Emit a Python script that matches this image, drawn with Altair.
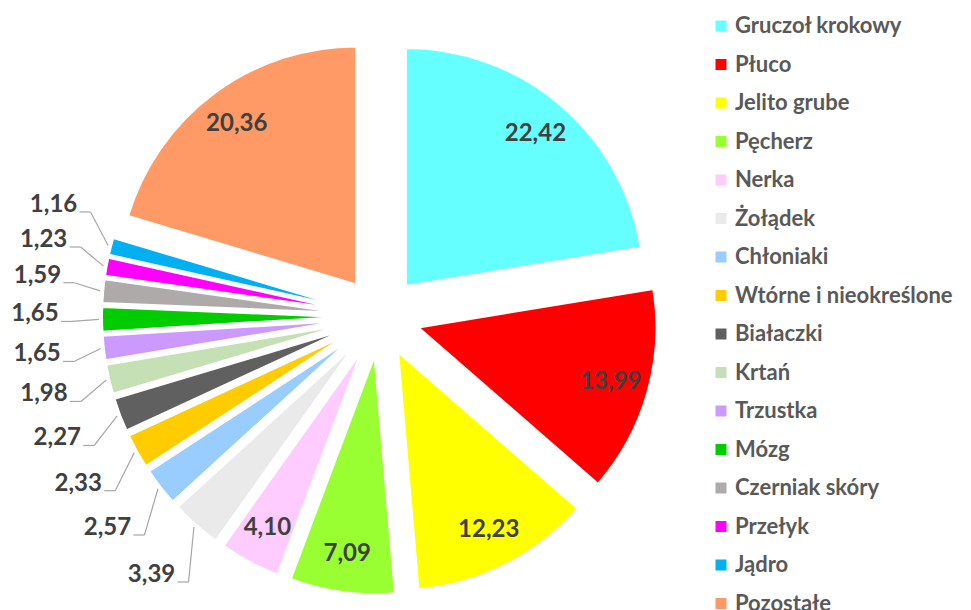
import altair as alt
import pandas as pd

categories = ["Gruczoł krokowy", "Płuco", "Jelito grube", "Pęcherz", "Nerka", "Żołądek",
              "Chłoniaki", "Wtórne i nieokreślone", "Białaczki", "Krtań", "Trzustka",
              "Mózg", "Czerniak skóry", "Przełyk", "Jądro", "Pozostałe"]
values = [22.42, 13.99, 12.23, 7.09, 4.10, 3.39, 2.57, 2.33, 2.27, 1.98, 1.65,
          1.65, 1.59, 1.23, 1.16, 20.36]
colors = ["#66FFFF", "#FF0000", "#FFFF00", "#99FF33", "#FFCCFF", "#EAEAEA",
          "#99CCFF", "#FFCC00", "#606060", "#C5E0B4", "#CC99FF", "#00CC00",
          "#AEAAAA", "#FF00FF", "#00B0F0", "#FF9966"]

df = pd.DataFrame({"cat": categories, "val": values, "order": list(range(len(values)))})

# layout (pixels, plot-area coordinates)
CX, CY = 372, 308.5   # pie centre
R = 238               # radius
EXPL = 40             # explosion distance
RIN = 240             # inside label radius (from centre)
ROUT = 345            # outside label radius
RANCH = 281           # leader anchor radius
GAP = 40
FONT = "Lato"

base = (
    alt.Chart(df)
    .transform_window(cum="sum(val)", sort=[alt.SortField("order")], frame=[None, 0])
    .transform_joinaggregate(total="sum(val)")
    .transform_calculate(
        a0="2*PI*(datum.cum - datum.val)/datum.total",
        a1="2*PI*datum.cum/datum.total",
    )
    .transform_calculate(am="(datum.a0 + datum.a1)/2")
    .transform_calculate(
        cx=f"{CX} + {EXPL}*sin(datum.am)",
        cy=f"{CY} - {EXPL}*cos(datum.am)",
        label="replace(format(datum.val, '.2f'), '.', ',')",
    )
)

arcs = base.mark_arc(radius=R, stroke="white", strokeWidth=2).encode(
    theta=alt.Theta("a0:Q", scale=None),
    theta2="a1:Q",
    x=alt.X("cx:Q", scale=None),
    y=alt.Y("cy:Q", scale=None),
    color=alt.Color(
        "cat:N",
        scale=alt.Scale(domain=categories, range=colors),
        legend=alt.Legend(
            orient="none", legendX=702, legendY=7, title=None,
            symbolType="square", symbolSize=121, symbolStrokeWidth=0,
            labelFont=FONT, labelFontSize=22, labelFontWeight="bold",
            labelColor="#595959", labelOffset=3, rowPadding=16.5,
            labelLimit=0, padding=0,
        ),
    ),
    order=alt.Order("order:Q"),
)

inner = (
    base.transform_filter("datum.val >= 4")
    .transform_calculate(
        lx=f"{CX} + {RIN}*sin(datum.am)",
        ly=f"{CY} - {RIN}*cos(datum.am)",
    )
    .mark_text(font=FONT, fontSize=24, fontWeight="bold", color="#404040",
               align="center", baseline="middle")
    .encode(x=alt.X("lx:Q", scale=None), y=alt.Y("ly:Q", scale=None), text="label:N")
)

outer_base = (
    base.transform_filter("datum.val < 4")
    .transform_calculate(y0=f"{CY} - {ROUT}*cos(datum.am)")
    .transform_window(py0="lag(y0)", sort=[alt.SortField("am")])
    .transform_calculate(y1=f"datum.py0 == null ? datum.y0 : min(datum.y0, datum.py0 - {GAP})")
    .transform_window(py1="lag(y1)", sort=[alt.SortField("am")])
    .transform_calculate(ly=f"datum.py1 == null ? datum.y1 : min(datum.y1, datum.py1 - {GAP})")
    .transform_calculate(
        lx=f"{CX} + (sin(datum.am) < 0 ? -1 : 1)*sqrt(max(0, {ROUT}*{ROUT} - (datum.ly - {CY})*(datum.ly - {CY})))",
        ax=f"{CX} + {RANCH}*sin(datum.am)",
        ay=f"{CY} - {RANCH}*cos(datum.am)",
    )
    .transform_calculate(
        ex="datum.lx + 37",
        ey="datum.ly + 7",
        tx="datum.lx + 26",
    )
)

outer_text = outer_base.mark_text(
    font=FONT, fontSize=24, fontWeight="bold", color="#404040",
    align="center", baseline="middle"
).encode(x=alt.X("lx:Q", scale=None), y=alt.Y("ly:Q", scale=None), text="label:N")

lead1 = outer_base.mark_rule(color="#A6A6A6", strokeWidth=1.2).encode(
    x=alt.X("ax:Q", scale=None), y=alt.Y("ay:Q", scale=None),
    x2="ex:Q", y2="ey:Q",
)
lead2 = outer_base.mark_rule(color="#A6A6A6", strokeWidth=1.2).encode(
    x=alt.X("ex:Q", scale=None), y=alt.Y("ey:Q", scale=None),
    x2="tx:Q", y2="ey:Q",
)

chart = (
    alt.layer(arcs, lead1, lead2, inner, outer_text)
    .properties(width=955, height=602, autosize=alt.AutoSizeParams(type="none"), padding=0)
    .configure_view(stroke=None)
)

chart.save("out.html", embed_options={"renderer": "svg", "actions": False})
